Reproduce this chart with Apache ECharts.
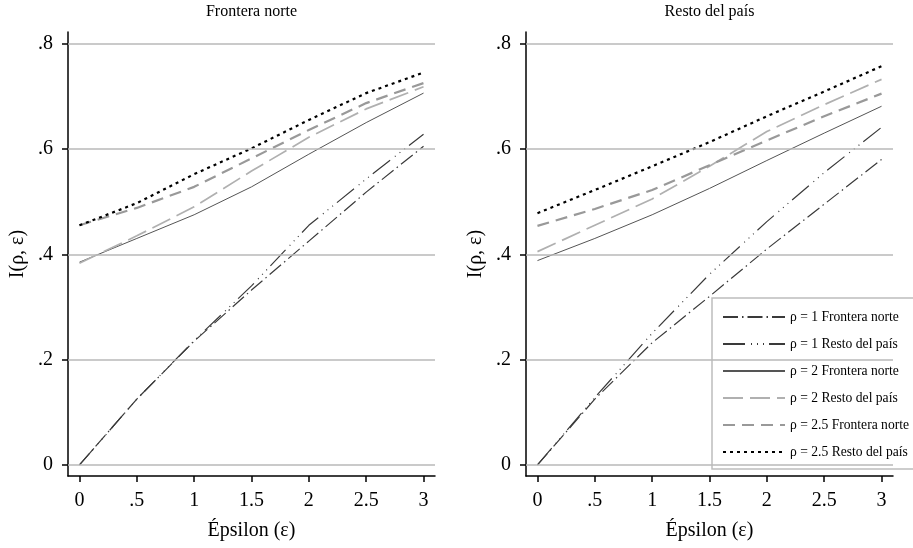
<!DOCTYPE html>
<html>
<head>
<meta charset="utf-8">
<script src="https://cdn.jsdelivr.net/npm/echarts@6/dist/echarts.min.js"></script>
<style>
html,body{margin:0;padding:0;background:#fff;}
#c{width:913px;height:548px;}
</style>
</head>
<body>
<div id="c"></div>
<script>
// ---- data ----
var epsilon = [0, 0.5, 1, 1.5, 2, 2.5, 3];
var xTicks = [0, 0.5, 1, 1.5, 2, 2.5, 3];
var yTicks = [0, 0.2, 0.4, 0.6, 0.8];
var panelTitles = ['Frontera norte', 'Resto del país'];
var seriesNames = [
  'ρ = 1 Frontera norte',
  'ρ = 1 Resto del país',
  'ρ = 2 Frontera norte',
  'ρ = 2 Resto del país',
  'ρ = 2.5 Frontera norte',
  'ρ = 2.5 Resto del país'
];
// Panel "Frontera norte"
var fn_r1F  = [0, 0.125, 0.235, 0.332, 0.425, 0.518, 0.605];
var fn_r1R  = [0, 0.125, 0.236, 0.340, 0.455, 0.543, 0.628];
var fn_r2F  = [0.385, 0.430, 0.475, 0.528, 0.590, 0.650, 0.706];
var fn_r2R  = [0.383, 0.435, 0.490, 0.558, 0.622, 0.676, 0.718];
var fn_r25F = [0.455, 0.488, 0.528, 0.582, 0.636, 0.687, 0.725];
var fn_r25R = [0.455, 0.497, 0.552, 0.601, 0.655, 0.706, 0.745];
// Panel "Resto del país"
var rp_r1F  = [0, 0.125, 0.232, 0.320, 0.410, 0.495, 0.580];
var rp_r1R  = [0, 0.128, 0.250, 0.362, 0.462, 0.555, 0.641];
var rp_r2F  = [0.388, 0.430, 0.475, 0.525, 0.578, 0.630, 0.681];
var rp_r2R  = [0.405, 0.455, 0.505, 0.567, 0.633, 0.684, 0.732];
var rp_r25F = [0.454, 0.486, 0.522, 0.569, 0.616, 0.662, 0.705];
var rp_r25R = [0.478, 0.522, 0.567, 0.613, 0.662, 0.709, 0.757];

var panels = [
  [fn_r1F, fn_r1R, fn_r2F, fn_r2R, fn_r25F, fn_r25R],
  [rp_r1F, rp_r1R, rp_r2F, rp_r2R, rp_r25F, rp_r25R]
];

// ---- styles ----
var FONT = 'Liberation Serif';
var lineStyles = [
  {color: '#3a3a3a', width: 1.2, type: [15, 4, 1.5, 4]},
  {color: '#3a3a3a', width: 1.2, type: [22, 6, 1, 5, 1, 5, 1, 5]},
  {color: '#555555', width: 1, type: 'solid'},
  {color: '#b0b0b0', width: 1.7, type: [20, 7]},
  {color: '#999999', width: 2.2, type: [12, 7]},
  {color: '#000000', width: 2.2, type: [3, 4]}
];

function fmt(v) {
  if (v === 0) return '0';
  var s = String(Math.round(v * 100) / 100);
  return s.replace(/^0\./, '.');
}

var grids = [
  {left: 68, top: 32, width: 367, height: 444},
  {left: 526, top: 32, width: 367, height: 444}
];

var xAxes = [], yAxes = [], series = [];
for (var p = 0; p < 2; p++) {
  xAxes.push({
    type: 'value', gridIndex: p, min: -0.1, max: 3.1,
    name: 'Épsilon (ε)', nameLocation: 'middle', nameGap: 45,
    nameTextStyle: {fontFamily: FONT, fontSize: 20, color: '#000'},
    axisLine: {show: true, onZero: false, lineStyle: {color: '#000', width: 1.5}},
    axisTick: {show: true, length: 6, customValues: xTicks, lineStyle: {color: '#000', width: 1.5}},
    axisLabel: {customValues: xTicks, formatter: fmt, fontFamily: FONT, fontSize: 20, color: '#000', margin: 15},
    splitLine: {show: false}
  });
  yAxes.push({
    type: 'value', gridIndex: p, min: -0.021, max: 0.822,
    name: 'I(ρ, ε)', nameLocation: 'middle', nameGap: 40, nameRotate: 90,
    nameTextStyle: {fontFamily: FONT, fontSize: 20, color: '#000'},
    axisLine: {show: true, onZero: false, lineStyle: {color: '#000', width: 1.5}},
    axisTick: {show: true, length: 6, customValues: yTicks, lineStyle: {color: '#000', width: 1.5}},
    axisLabel: {customValues: yTicks, formatter: fmt, fontFamily: FONT, fontSize: 20, color: '#000', margin: 15},
    splitLine: {show: false}
  });
  // gridlines through a silent helper series
  series.push({
    type: 'line', xAxisIndex: p, yAxisIndex: p, data: [], silent: true, z: 1,
    markLine: {
      silent: true, symbol: 'none', label: {show: false},
      lineStyle: {color: '#b8b8b8', width: 1.5, type: 'solid'},
      data: yTicks.map(function (v) { return {yAxis: v}; })
    }
  });
  for (var s = 0; s < 6; s++) {
    var vals = panels[p][s];
    series.push({
      type: 'line', name: seriesNames[s], xAxisIndex: p, yAxisIndex: p, z: 3,
      symbol: 'none', showSymbol: false, smooth: false,
      lineStyle: lineStyles[s],
      itemStyle: {color: lineStyles[s].color},
      data: epsilon.map(function (x, i) { return [x, vals[i]]; })
    });
  }
}

var chart = echarts.init(document.getElementById('c'), null, {renderer: 'canvas'});
chart.setOption({
  animation: false,
  backgroundColor: '#fff',
  grid: grids,
  xAxis: xAxes,
  yAxis: yAxes,
  legend: {
    orient: 'vertical', left: 712, top: 298, selectedMode: false,
    data: seriesNames,
    itemWidth: 62, itemHeight: 14, itemGap: 13,
    padding: [12, 8, 10, 10],
    itemStyle: {opacity: 0, color: 'transparent', borderWidth: 0},
    backgroundColor: '#fff', borderColor: '#bdbdbd', borderWidth: 1.5,
    textStyle: {fontFamily: FONT, fontSize: 13.6, color: '#000'}
  },
  graphic: panelTitles.map(function (t, i) {
    return {
      type: 'text',
      x: grids[i].left + grids[i].width / 2, y: 4,
      style: {text: t, fontFamily: FONT, fontSize: 16, fill: '#000', textAlign: 'center', textVerticalAlign: 'top'}
    };
  }),
  series: series
});
</script>
</body>
</html>
